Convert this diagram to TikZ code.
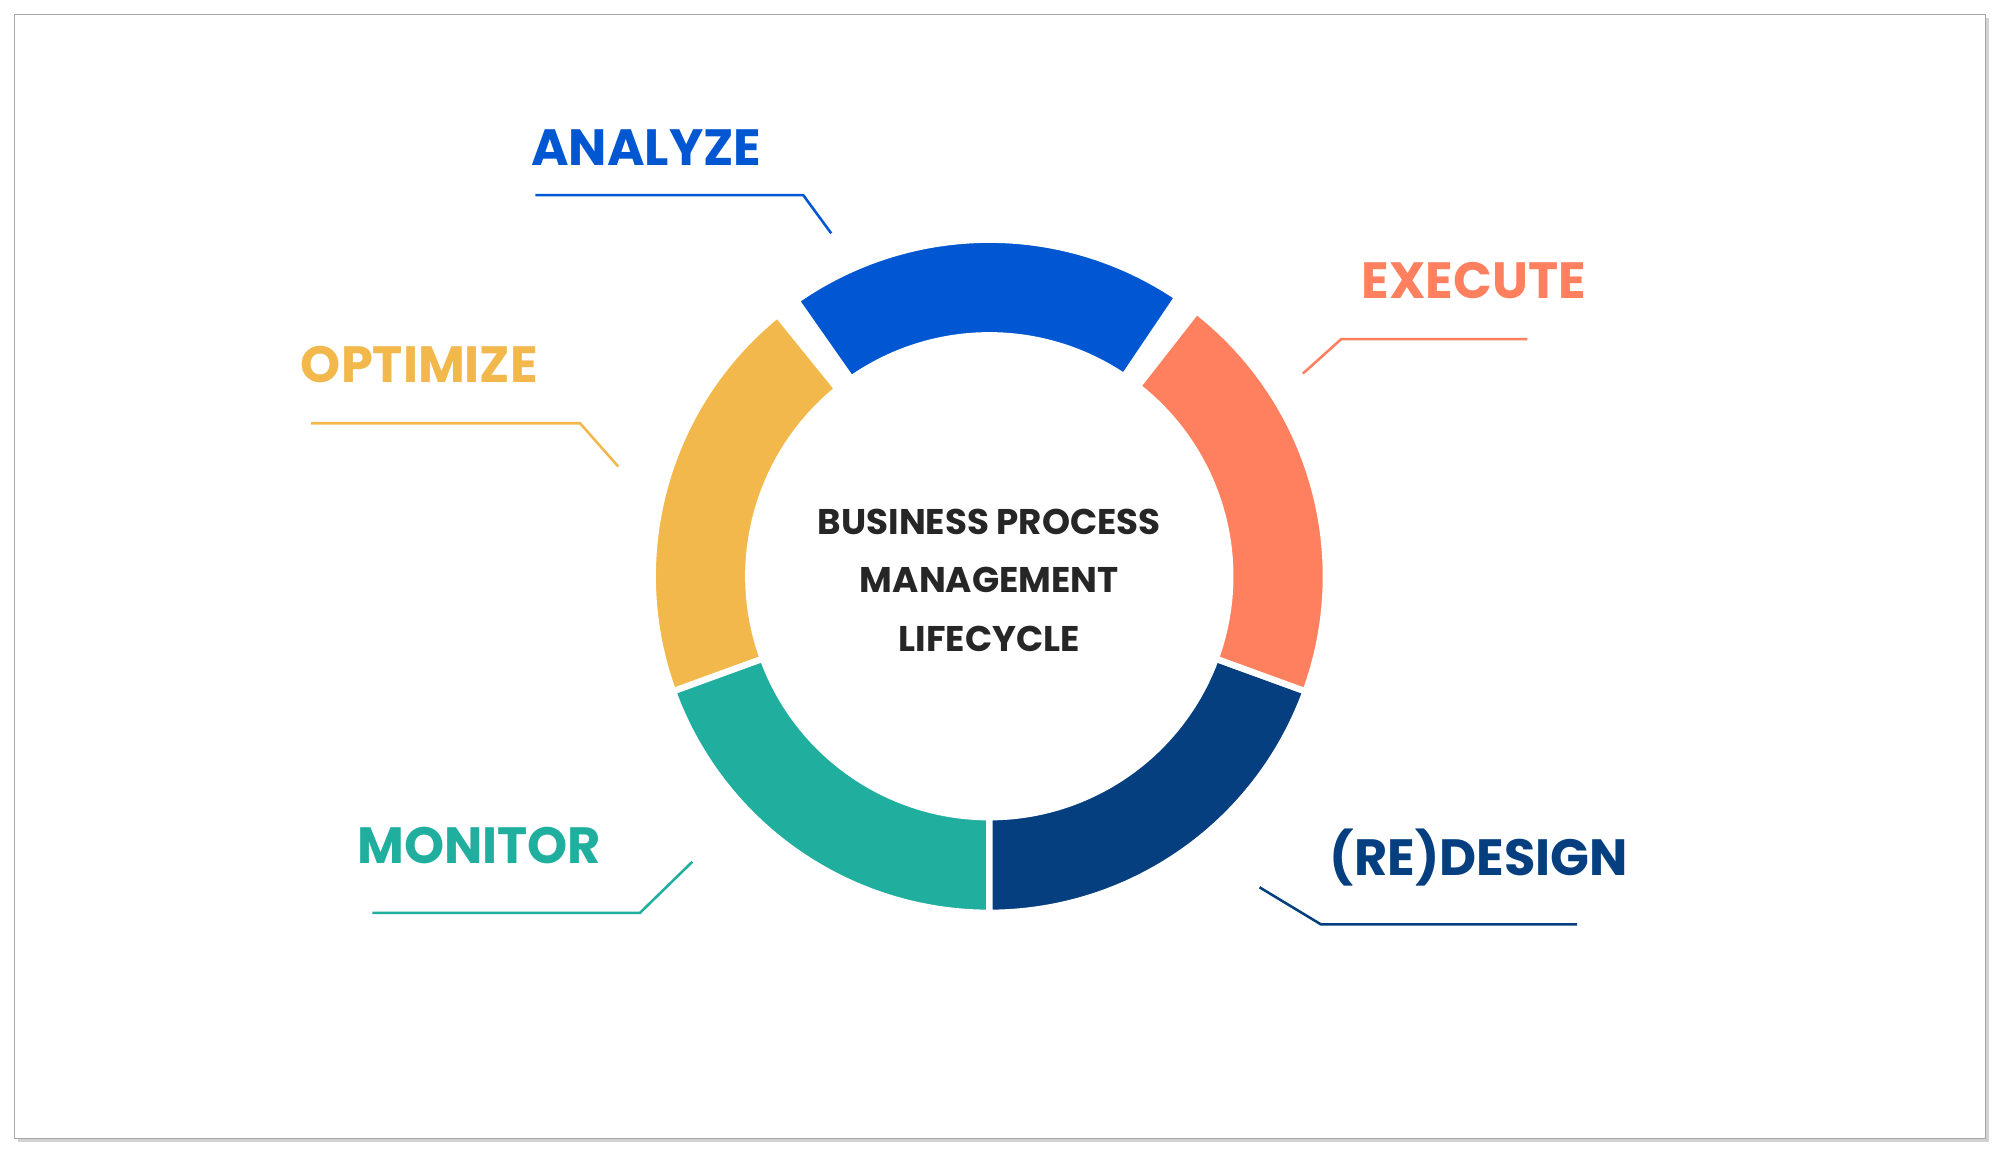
\documentclass[tikz,border=0pt]{standalone}
\usepackage{fontspec}
\usetikzlibrary{calc}
\setmainfont{Poppins}
\definecolor{cblue}{HTML}{0057D1}
\definecolor{corange}{HTML}{FF805F}
\definecolor{cnavy}{HTML}{053F7F}
\definecolor{cteal}{HTML}{20AE9F}
\definecolor{cyellow}{HTML}{F2B84B}
\begin{document}
\begin{tikzpicture}[x=1pt,y=-1pt,
  seg/.style={draw=white,line width=5pt,line join=round},
  lbl/.style={font=\fontsize{40}{44}\selectfont\bfseries},
  lead/.style={line width=2pt}]
\useasboundingbox (0,0) rectangle (1568,906);
\fill[gray!35] (14,14) rectangle (1560,896);
\draw[gray!70,fill=white] (11,11) rectangle (1557,893);
\coordinate (c) at (776,452);
\foreach \a/\b/\col in {56/125/cblue,129/200/cyellow,200/270/cteal,270/340/cnavy,340/412/corange}{
  \filldraw[seg,fill=\col] ($(c)+(\a:264 and -264)$) arc[start angle=\a,end angle=\b,x radius=264,y radius=-264]
   -- ($(c)+(\b:189 and -189)$) arc[start angle=\b,end angle=\a,x radius=189,y radius=-189] -- cycle;
}
\node[font=\fontsize{28}{46}\selectfont\bfseries,align=center,text=black!85] (t) at (776,455) {BUSINESS PROCESS\\MANAGEMENT\\LIFECYCLE};
\node[lbl,text=cblue] (an) at (507,116) {ANALYZE};
\node[lbl,text=corange] (ex) at (1156,220) {EXECUTE};
\node[lbl,text=cyellow] (op) at (329,286) {OPTIMIZE};
\node[lbl,text=cteal] (mo) at (376,663) {MONITOR};
\node[lbl,text=cnavy] (re) at (1160,673) {(RE)DESIGN};
\coordinate (a1) at (420,153); \coordinate (a2) at (630,153); \coordinate (a3) at (652,183);
\draw[lead,cblue] (a1) -- (a2) -- (a3);
\coordinate (e1) at (1198,266); \coordinate (e2) at (1052,266); \coordinate (e3) at (1022,293);
\draw[lead,corange] (e1) -- (e2) -- (e3);
\coordinate (o1) at (244,332); \coordinate (o2) at (455,332); \coordinate (o3) at (485,366);
\draw[lead,cyellow] (o1) -- (o2) -- (o3);
\coordinate (m1) at (292,716); \coordinate (m2) at (502,716); \coordinate (m3) at (543,676);
\draw[lead,cteal] (m1) -- (m2) -- (m3);
\coordinate (r1) at (1237,725); \coordinate (r2) at (1036,725); \coordinate (r3) at (988,696);
\draw[lead,cnavy] (r1) -- (r2) -- (r3);
\end{tikzpicture}
\end{document}
